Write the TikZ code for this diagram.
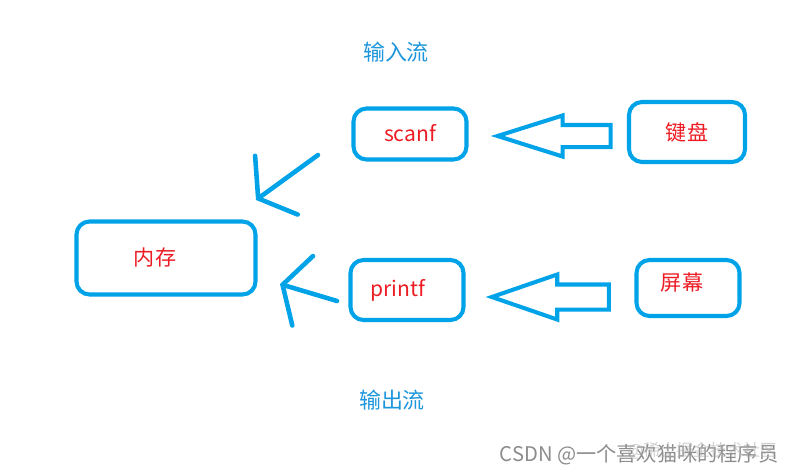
\documentclass[tikz,border=0pt]{standalone}
\usepackage{fontspec}
\setmainfont{Noto Sans CJK SC}
\usetikzlibrary{arrows.meta,shapes.arrows}
\definecolor{paintblue}{HTML}{00A2E8}
\definecolor{paintred}{HTML}{ED1C24}
\definecolor{titleblue}{HTML}{1E96DC}
\begin{document}
\begin{tikzpicture}[
  box/.style={draw=paintblue, line width=2.3pt, rounded corners=0.26cm, text=paintred, font=\fontsize{12}{14}\selectfont},
  hollow/.style={single arrow, draw=paintblue, line width=2.3pt, shape border rotate=180},
  thin arrow/.style={draw=paintblue, line width=2.6pt, line cap=round},
  streamlabel/.style={text=titleblue, font=\fontsize{12.5}{15}\selectfont}]
\useasboundingbox (0, 0) rectangle (15.8, 9.46);
\node (instream)[streamlabel] at (7.92, 8.42) {输入流};
\node (outstream)[streamlabel] at (7.84, 1.46) {输出流};
\node (mem)[box, minimum width=3.58cm, minimum height=1.46cm] at (3.32, 4.30) {\hspace*{-0.44cm}内存};
\node (scanf)[box, minimum width=2.26cm, minimum height=1.02cm] at (8.2, 6.78) {\raisebox{0.06cm}{scanf}};
\node (printf)[box, minimum width=2.26cm, minimum height=1.2cm] at (8.14, 3.66) {\hspace*{-0.36cm}\raisebox{0.1cm}{printf}};
\node (keyboard)[box, minimum width=2.32cm, minimum height=1.2cm] at (13.74, 6.82) {键盘};
\node (screen)[box, minimum width=2.06cm, minimum height=1.12cm] at (13.76, 3.70) {\hspace*{-0.24cm}\raisebox{0.24cm}{屏幕}};
% hollow arrows from the devices
\node (kbarrow)[hollow, inner sep=0.18cm, single arrow head extend=0.19cm, single arrow tip angle=35, minimum height=2.26cm] at (11.43, 6.74) {};
\node (scrarrow)[hollow, inner sep=0.21cm, single arrow head extend=0.2cm, single arrow tip angle=38, minimum height=2.34cm] at (11.37, 3.52) {};
% hand drawn arrows into memory
\coordinate (scanf out) at (6.36, 6.36);
\coordinate (mem top in) at (5.12, 5.46);
\coordinate (printf out) at (6.74, 3.44);
\coordinate (mem low in) at (5.6, 3.78);
\draw[thin arrow, -{Straight Barb[length=0.45cm, width=1.45cm, line cap=round]}] (scanf out) -- (mem top in);
\draw[thin arrow, -{Straight Barb[length=0.42cm, width=1.45cm, line cap=round]}] (printf out) -- (mem low in);
% watermark
\node (mark)[text=black!45, font=\fontsize{11.5}{13}\selectfont] at (12.78, 0.36) {CSDN @一个喜欢猫咪的程序员};
\node (mark2)[text=black!30, opacity=0.6, font=\fontsize{9.5}{11}\selectfont] at (14.04, 0.44) {@稀土掘金技术社区};
\end{tikzpicture}
\end{document}
